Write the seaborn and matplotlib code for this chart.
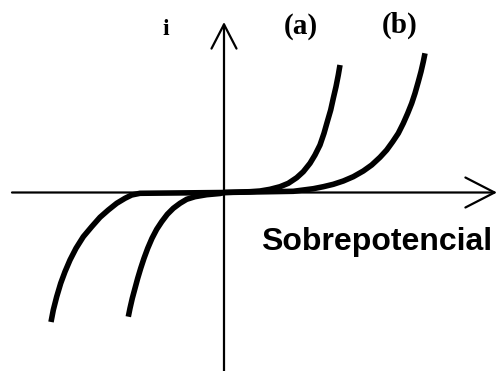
import matplotlib
matplotlib.use("Agg")
import matplotlib.pyplot as plt
import seaborn as sns
import pandas as pd

# Current–overpotential curves (arbitrary units), two electrodes
eta_a = [-0.957, -0.940, -0.917, -0.890, -0.863, -0.833, -0.800, -0.763, -0.720, -0.673,
         -0.623, -0.567, -0.507, -0.440, -0.373, -0.290, -0.173, -0.040, 0.000,
         0.260, 0.360, 0.460, 0.560, 0.643, 0.727, 0.793, 0.860, 0.910, 0.960,
         1.000, 1.033, 1.067, 1.093, 1.120, 1.143, 1.160]
i_a = [-1.242, -1.158, -1.058, -0.958, -0.858, -0.758, -0.658, -0.558, -0.458, -0.368,
       -0.292, -0.218, -0.158, -0.108, -0.068, -0.042, -0.022, -0.010, 0.000,
       0.008, 0.015, 0.032, 0.058, 0.092, 0.148, 0.208, 0.292, 0.375, 0.475,
       0.592, 0.708, 0.825, 0.942, 1.058, 1.175, 1.275]

eta_b = [-1.730, -1.707, -1.673, -1.633, -1.590, -1.540, -1.480, -1.407, -1.323, -1.240,
         -1.157, -1.073, -0.990, -0.923, -0.840, 0.000,
         0.693, 0.793, 0.893, 0.993, 1.093, 1.193, 1.293, 1.393, 1.477, 1.560,
         1.627, 1.687, 1.743, 1.793, 1.837, 1.877, 1.910, 1.943, 1.970, 1.993, 2.010]
i_b = [-1.295, -1.175, -1.042, -0.908, -0.792, -0.675, -0.558, -0.442, -0.342, -0.248,
       -0.175, -0.108, -0.058, -0.025, -0.008, 0.000,
       0.012, 0.025, 0.038, 0.058, 0.082, 0.115, 0.158, 0.215, 0.275, 0.352,
       0.425, 0.508, 0.592, 0.692, 0.792, 0.892, 0.992, 1.108, 1.208, 1.308, 1.392]

curve_labels = ["(a)", "(b)"]
x_label = "Sobrepotencial"
y_label = "i"

df = pd.concat([
    pd.DataFrame({"eta": eta_a, "i": i_a, "curva": curve_labels[0]}),
    pd.DataFrame({"eta": eta_b, "i": i_b, "curva": curve_labels[1]}),
])

sns.set_theme(style="white")
fig = plt.figure(figsize=(4.98, 3.71), dpi=100)
ax = fig.add_axes([0, 0, 1, 1])
ax.set_xlim(-2.24, 2.74)
ax.set_ylim(-1.785, 1.925)
ax.axis("off")

# Coordinate axes with open arrowheads
ax.annotate("", xy=(2.73, 0), xytext=(-2.12, 0),
            arrowprops=dict(arrowstyle="->,head_length=1.75,head_width=0.9",
                            lw=1.6, color="black", shrinkA=0, shrinkB=0))
ax.annotate("", xy=(0, 1.705), xytext=(0, -1.80),
            arrowprops=dict(arrowstyle="->,head_length=1.45,head_width=0.75",
                            lw=1.6, color="black", shrinkA=0, shrinkB=0))

sns.lineplot(data=df, x="eta", y="i", units="curva", estimator=None, sort=False,
             color="black", linewidth=4.0, ax=ax, legend=False,
             solid_capstyle="butt", solid_joinstyle="round")

serif = ["Liberation Serif", "DejaVu Serif"]
ax.text(-0.58, 1.635, y_label, family=serif, weight="bold", fontsize=17,
        ha="center", va="center", color="black")
ax.text(0.77, 1.665, curve_labels[0], family=serif, weight="bold", fontsize=21,
        ha="center", va="center", color="black")
ax.text(1.76, 1.675, curve_labels[1], family=serif, weight="bold", fontsize=21,
        ha="center", va="center", color="black")
ax.text(1.53, -0.575, x_label, family=["Liberation Sans", "DejaVu Sans"], weight="bold",
        fontsize=23, ha="center", va="baseline", color="black")

fig.savefig("out.png", dpi=100)
